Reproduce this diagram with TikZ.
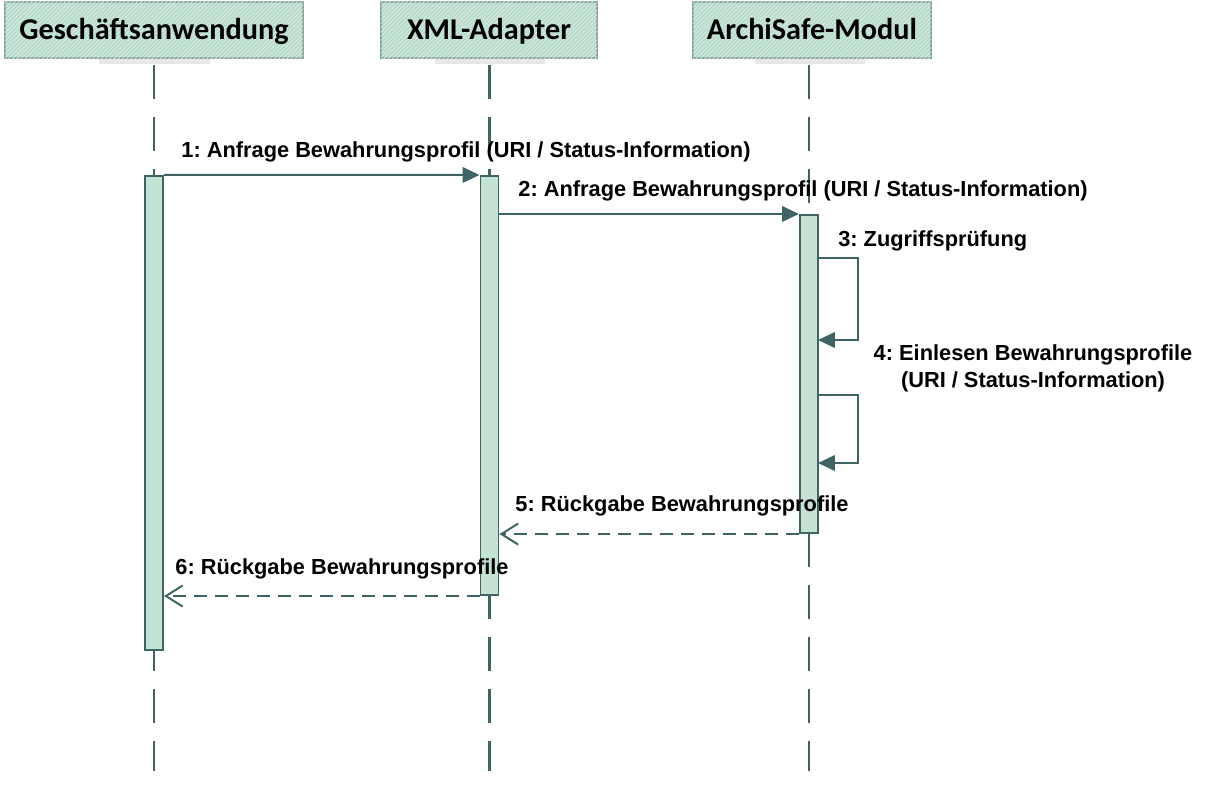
\documentclass[tikz,border=0pt]{standalone}
\usepackage{fontspec}
\setmainfont{Liberation Sans}
\newfontfamily\hdrfont{Carlito}
\frenchspacing
\usetikzlibrary{positioning}
\usetikzlibrary{arrows.meta}
\usetikzlibrary{patterns}
\definecolor{seqline}{RGB}{63,100,100}
\definecolor{actfill}{RGB}{197,227,213}
\definecolor{hdrfill}{RGB}{184,220,204}
\definecolor{hdrdraw}{RGB}{138,168,160}
\tikzset{
    hdrnode/.style = {rectangle, draw=hdrdraw, line width=1pt, fill=hdrfill, minimum height=1.4cm, inner sep=0pt,
        text height=15pt, text depth=2pt,
        postaction={pattern=north east lines, pattern color=white!55!hdrfill},
        font=\hdrfont\bfseries\fontsize{21.5}{24}\selectfont, text=black},
    actnode/.style = {rectangle, draw=seqline, line width=1.4pt, fill=actfill, minimum width=0.45cm, inner sep=0pt},
    msglabel/.style = {font=\bfseries\fontsize{15.5}{19}\selectfont, text=black, inner sep=0pt, align=center},
    lifeline/.style = {-, line width=1.5pt, seqline, dash pattern=on 24pt off 13pt},
    edgesync/.style = {line width=1.4pt, seqline, -{Triangle[length=12pt,width=11pt]}}, % call
    edgeret/.style = {line width=1.4pt, seqline, dash pattern=on 9.2pt off 5.7pt, -{Straight Barb[length=12pt,width=15pt]}}, % return
    hdrshadow/.style = {fill=black, opacity=0.09}
}
\begin{document}
\begin{tikzpicture}[x=0.025cm,y=-0.025cm]
\path[use as bounding box] (0,0) rectangle (1209,797);

% header shadows
\fill[hdrshadow] (99,56) rectangle (210,64);
\fill[hdrshadow] (435,56) rectangle (545,64);
\fill[hdrshadow] (755,56) rectangle (865,64);

% headers
\node[hdrnode, minimum width=7.45cm] at (154,30) (hdrG) {Geschäftsanwendung};
\node[hdrnode, minimum width=5.4cm] at (489,30) (hdrX) {XML-Adapter};
\node[hdrnode, minimum width=5.95cm] at (812,30) (hdrA) {ArchiSafe-Modul};

% lifelines
\coordinate (endG) at (154,771);
\coordinate (endX) at (489.5,771);
\coordinate (endA) at (809,771);
\draw[lifeline] (154,65) -- (endG);
\draw[lifeline] (489.5,65) -- (endX);
\draw[lifeline] (809,65) -- (endA);

% activations
\node[actnode, minimum height=11.85cm] at (154,413) (actG) {};
\node[actnode, minimum height=10.475cm] at (489.5,385.5) (actX) {};
\node[actnode, minimum height=7.95cm] at (809,374) (actA) {};

% self calls
\coordinate (z3a) at (818,258);
\coordinate (z3b) at (858,258);
\coordinate (z3c) at (858,340);
\coordinate (z3d) at (818,340);
\coordinate (z4a) at (818,395);
\coordinate (z4b) at (858,395);
\coordinate (z4c) at (858,463);
\coordinate (z4d) at (818,463);

% messages
\draw[edgesync] (actG.north east) -- (actX.north west);
\draw[edgesync] (actX.east |- actA.north) -- (actA.north west);
\draw[edgesync] (z3a) -- (z3b) -- (z3c) -- (z3d);
\draw[edgesync] (z4a) -- (z4b) -- (z4c) -- (z4d);
\draw[edgeret] (actA.south west) -- (actX.east |- actA.south);
\draw[edgeret] (actX.south west) -- (actG.east |- actX.south);

% labels
\node[msglabel] at (466,152) (l1) {1: Anfrage Bewahrungsprofil (URI / Status-Information)};
\node[msglabel] at (803,191) (l2) {2: Anfrage Bewahrungsprofil (URI / Status-Information)};
\node[msglabel, anchor=west] at (838,241) (l3) {3: Zugriffsprüfung};
\node[msglabel] at (1033,368) (l4) {4: Einlesen Bewahrungsprofile\\(URI / Status-Information)};
\node[msglabel] at (682,506) (l5) {5: Rückgabe Bewahrungsprofile};
\node[msglabel] at (342,569) (l6) {6: Rückgabe Bewahrungsprofile};

\end{tikzpicture}
\end{document}
